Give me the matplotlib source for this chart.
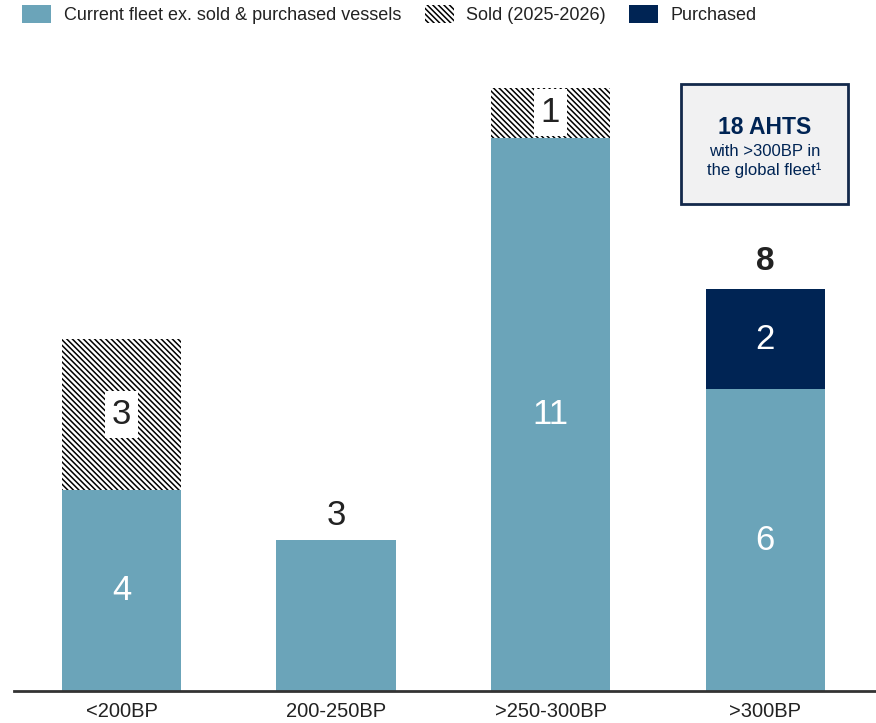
import numpy as np
import matplotlib.pyplot as plt
from matplotlib.patches import Patch, Rectangle

plt.rcParams['font.family'] = ['Liberation Sans', 'DejaVu Sans']
plt.rcParams['hatch.linewidth'] = 1.1

categories = ['<200BP', '200-250BP', '>250-300BP', '>300BP']
current = [4, 3, 11, 6]
sold = [3, 0, 1, 0]
purchased = [0, 0, 0, 2]
inner_label = [True, False, True, True]   # bar 2 only has its total on top
totals_shown = {1: '3', 3: '8'}   # labels above bars
legend_labels = ['Current fleet ex. sold & purchased vessels', 'Sold (2025-2026)', 'Purchased']

teal = '#6ba4b9'
navy = '#002454'
hatch = '\\' * 6

fig = plt.figure(figsize=(8.76, 7.23), dpi=100)
ax = fig.add_axes([14/876, 32/723, 862/876, 650/723])
x = np.arange(len(categories))
w = 0.555

ax.bar(x, current, w, color=teal, linewidth=0)
ax.bar(x, sold, w, bottom=current, color='white', edgecolor='black', hatch=hatch, linewidth=0)
ax.bar(x, purchased, w, bottom=np.array(current) + np.array(sold), color=navy, linewidth=0)

for i in range(len(x)):
    if inner_label[i]:
        ax.text(x[i], current[i] / 2, str(current[i]), ha='center', va='center',
                color='white', fontsize=25)
    if sold[i]:
        ax.text(x[i], current[i] + sold[i] / 2, str(sold[i]), ha='center', va='center',
                color='#222222', fontsize=25,
                bbox=dict(facecolor='white', edgecolor='none', pad=5))
    if purchased[i]:
        ax.text(x[i], current[i] + sold[i] + purchased[i] / 2, str(purchased[i]),
                ha='center', va='center', color='white', fontsize=25)

top = np.array(current) + np.array(sold) + np.array(purchased)
ax.text(x[1], top[1] + 0.5, totals_shown[1], ha='center', va='center', color='#222222', fontsize=25)
ax.text(x[3], top[3] + 0.55, totals_shown[3], ha='center', va='center', color='#222222',
        fontsize=24, fontweight='bold')

ax.set_xlim(-0.501, 3.517)
ax.set_ylim(0, 12.93)
ax.set_xticks(x)
ax.set_xticklabels(categories, fontsize=14.5, color='#222222')
ax.tick_params(axis='x', length=0, pad=8)
ax.set_yticks([])
for s in ['top', 'right', 'left']:
    ax.spines[s].set_visible(False)
ax.spines['bottom'].set_color('#333333')
ax.spines['bottom'].set_linewidth(2)

handles = [Patch(facecolor=teal, linewidth=0),
           Patch(facecolor='white', edgecolor='black', hatch=hatch, linewidth=0),
           Patch(facecolor=navy, linewidth=0)]
fig.legend(handles, legend_labels, loc='upper left', bbox_to_anchor=(6/876, 1.016), ncol=3,
           frameon=False, fontsize=13, handlelength=1.6, handleheight=1.2,
           handletextpad=0.7, columnspacing=1.3, labelcolor='#222222')

# callout box
fig.patches.append(Rectangle((681/876, (723-204)/723), 167/876, 120/723, transform=fig.transFigure,
                             facecolor='#f1f1f2', edgecolor='#13294b', linewidth=2))
fig.text(764.5/876, 1 - 127/723, '18 AHTS', ha='center', va='center', color=navy,
         fontsize=16.5, fontweight='bold')
fig.text(764.5/876, 1 - 151/723, 'with >300BP in', ha='center', va='center', color=navy, fontsize=12)
fig.text(764.5/876, 1 - 170/723, 'the global fleet\u00b9', ha='center', va='center', color=navy, fontsize=12)

fig.savefig('out.png', dpi=100)
